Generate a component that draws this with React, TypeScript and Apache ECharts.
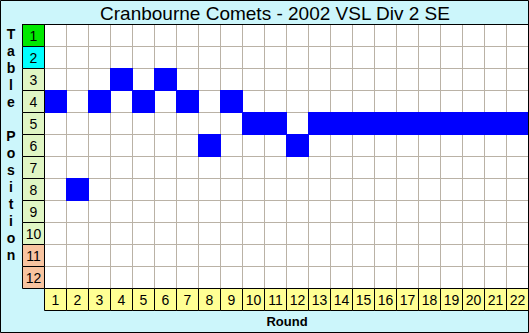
import React, { useEffect, useRef } from "react";
import * as echarts from "echarts";

const chartTitle = "Cranbourne Comets - 2002 VSL Div 2 SE";
const rounds = ["1","2","3","4","5","6","7","8","9","10","11","12","13","14","15","16","17","18","19","20","21","22"];
const positions = ["1","2","3","4","5","6","7","8","9","10","11","12"];
const teamPosition = [4, 8, 4, 3, 4, 3, 4, 6, 4, 5, 5, 6, 5, 5, 5, 5, 5, 5, 5, 5, 5, 5];
const yTitle = "Table Position";
const xTitle = "Round";

const FONT = "Liberation Sans, Arial, sans-serif";

function zoneColor(pos: number): string {
  if (pos === 1) return "#00e800";
  if (pos === 2) return "#00ffff";
  if (pos >= 11) return "#f8c4a0";
  return "#e0f6c4";
}

export default function App() {
  const ref = useRef<HTMLDivElement>(null);
  useEffect(() => {
    if (!ref.current) return;
    const chart = echarts.init(ref.current, null, { renderer: "svg" });

    const cellRect = (api: any, xi: number, yi: number, grow: number) => {
      const c = api.coord([xi, yi]);
      const s = api.size([1, 1]);
      const x0 = Math.round(c[0] - s[0] / 2);
      const y0 = Math.round(c[1] - s[1] / 2);
      return { x: x0, y: y0, w: Math.round(s[0]) + grow, h: Math.round(s[1]) + grow };
    };

    const option: any = {
      animation: false,
      backgroundColor: "#ccf6fb",
      grid: [
        { left: 44, top: 24, width: 484, height: 264, show: true, backgroundColor: "#ffffff", borderWidth: 0 },
        { left: 22, top: 24, width: 22, height: 264, show: false },
        { left: 44, top: 288, width: 484, height: 22, show: false },
      ],
      xAxis: [
        {
          gridIndex: 0, type: "category", data: rounds,
          axisLine: { show: false }, axisTick: { show: false }, axisLabel: { show: false },
          splitLine: { show: true, interval: 0, lineStyle: { color: "#bab2a6", width: 1 } },
        },
        { gridIndex: 1, type: "category", data: [""], show: false },
        { gridIndex: 2, type: "category", data: rounds, show: false },
      ],
      yAxis: [
        {
          gridIndex: 0, type: "category", data: positions, inverse: true,
          axisLine: { show: false }, axisTick: { show: false }, axisLabel: { show: false },
          splitLine: { show: true, interval: 0, lineStyle: { color: "#bab2a6", width: 1 } },
        },
        { gridIndex: 1, type: "category", data: positions, inverse: true, show: false },
        { gridIndex: 2, type: "category", data: [""], show: false },
      ],
      series: [
        {
          type: "custom",
          xAxisIndex: 0, yAxisIndex: 0,
          data: teamPosition.map((p, i) => [i, p - 1]),
          renderItem: (params: any, api: any) => {
            const r = cellRect(api, api.value(0), api.value(1), 1);
            return {
              type: "rect",
              shape: { x: r.x, y: r.y, width: r.w, height: r.h },
              style: { fill: "#0000ff" },
            };
          },
        },
        {
          type: "custom",
          xAxisIndex: 1, yAxisIndex: 1,
          data: positions.map((p, i) => [0, i]),
          renderItem: (params: any, api: any) => {
            const yi = api.value(1);
            const r = cellRect(api, 0, yi, 0);
            return {
              type: "rect",
              shape: { x: r.x + 0.5, y: r.y + 0.5, width: r.w, height: r.h },
              style: { fill: zoneColor(yi + 1), stroke: "#000000", lineWidth: 1 },
              textContent: {
                style: { text: positions[yi], font: `14px ${FONT}`, fill: "#000000" },
              },
              textConfig: { position: "inside" },
            };
          },
        },
        {
          type: "custom",
          xAxisIndex: 2, yAxisIndex: 2,
          data: rounds.map((r, i) => [i, 0]),
          renderItem: (params: any, api: any) => {
            const xi = api.value(0);
            const r = cellRect(api, xi, 0, 0);
            return {
              type: "rect",
              shape: { x: r.x + 0.5, y: r.y + 0.5, width: r.w, height: r.h },
              style: { fill: "#ffff94", stroke: "#000000", lineWidth: 1 },
              textContent: {
                style: { text: rounds[xi], font: `14px ${FONT}`, fill: "#000000" },
              },
              textConfig: { position: "inside" },
            };
          },
        },
      ],
      graphic: [
        {
          type: "rect", z: 100, silent: true,
          shape: { x: 0.5, y: 0.5, width: 528, height: 332 },
          style: { fill: "none", stroke: "#000000", lineWidth: 1 },
        },
        {
          type: "line", z: 100, silent: true,
          shape: { x1: 22, y1: 24.5, x2: 529, y2: 24.5 },
          style: { stroke: "#000000", lineWidth: 1 },
        },
        {
          type: "text", z: 100, silent: true,
          x: 275, y: 13,
          style: { text: chartTitle, font: `19px ${FONT}`, fill: "#000000", textAlign: "center", textVerticalAlign: "middle" },
        },
        {
          type: "text", z: 100, silent: true,
          x: 11, y: 25.5,
          style: {
            text: yTitle.split("").join("\n"),
            font: `bold 14px ${FONT}`, fill: "#000000", textAlign: "center", textVerticalAlign: "top", lineHeight: 17,
          },
        },
        {
          type: "text", z: 100, silent: true,
          x: 287, y: 321,
          style: { text: xTitle, font: `bold 13px ${FONT}`, fill: "#000000", textAlign: "center", textVerticalAlign: "middle" },
        },
      ],
    };
    chart.setOption(option);
    return () => chart.dispose();
  }, []);
  return <div ref={ref} style={{ position: "fixed", left: 0, top: 0, width: 529, height: 333 }} />;
}
